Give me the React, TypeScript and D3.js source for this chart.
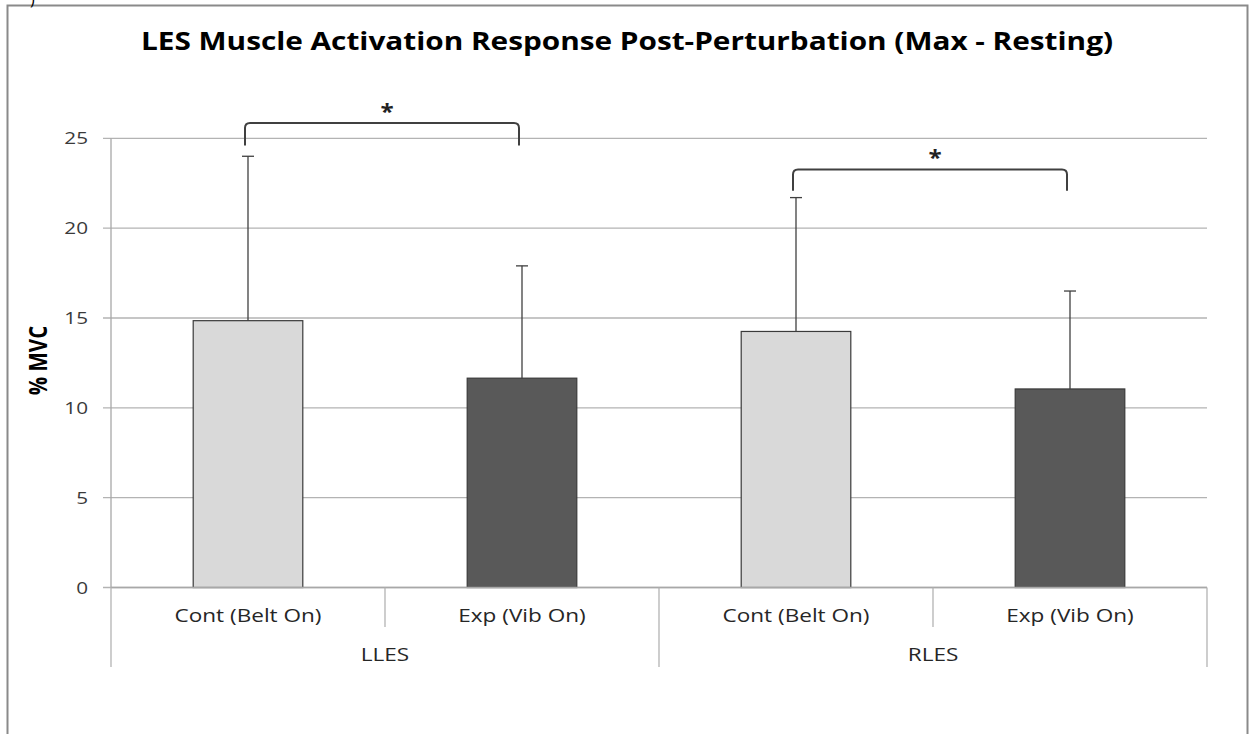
import React from "react";
import * as d3 from "d3";

const groups = ["LLES", "RLES"];
const conditions = ["Cont (Belt On)", "Exp (Vib On)"];
const meanValues = [
  [14.85, 11.65],
  [14.25, 11.05],
];
const errorTops = [
  [24.0, 17.9],
  [21.7, 16.5],
];
const yTicks = [0, 5, 10, 15, 20, 25];
// significance brackets: group index, bracket top value, leg bottom value
const sigGroups = [0, 1];
const sigTop = [25.85, 23.27];
const sigBottom = [24.6, 22.08];
const title = "LES Muscle Activation Response Post-Perturbation (Max - Resting)";
const yLabel = "% MVC";

const W = 1251;
const H = 734;
const plotLeft = 111;
const plotRight = 1207;
const plotTop = 138.3;
const plotBottom = 587.5;
const FONT = "'Open Sans', 'Liberation Sans', sans-serif";
const SX = 1.22;

type STProps = {
  x: number;
  y: number;
  size: number;
  anchor?: string;
  weight?: string;
  fill?: string;
  rotate?: boolean;
  sx?: number;
  dy?: string;
  children: React.ReactNode;
};

function SText({ x, y, size, anchor = "middle", weight = "normal", fill = "#000", rotate = false, sx = SX, dy, children }: STProps) {
  const tr = rotate
    ? `translate(${x},${y}) rotate(-90) scale(1,${sx})`
    : `translate(${x},${y}) scale(${sx},1)`;
  return (
    <text
      transform={tr}
      textAnchor={anchor}
      fontFamily={FONT}
      fontWeight={weight}
      fontSize={size}
      fill={fill}
      dy={dy}
    >
      {children}
    </text>
  );
}

export default function App() {
  const cats: { g: number; c: number; key: string }[] = [];
  groups.forEach((g, gi) =>
    conditions.forEach((c, ci) => cats.push({ g: gi, c: ci, key: `${g}-${c}` }))
  );
  const x = d3
    .scaleBand<string>()
    .domain(cats.map((d) => d.key))
    .range([plotLeft, plotRight])
    .paddingInner(0.6)
    .paddingOuter(0.3);
  const y = d3.scaleLinear().domain([0, 25]).range([plotBottom, plotTop]);
  const fills = ["#d9d9d9", "#595959"];
  const catW = (plotRight - plotLeft) / cats.length;
  const catStart = (i: number) => plotLeft + i * catW;

  return (
    <div style={{ position: "absolute", left: 0, top: 0 }}>
      <svg width={W} height={H} style={{ display: "block", background: "#fff" }}>
        <rect x={0} y={0} width={W} height={H} fill="#fff" />
        {/* frame */}
        <rect x={7.5} y={5.5} width={1240} height={740} fill="none" stroke="#8a8a8a" strokeWidth={2} />
        <text x={30} y={5} fontFamily={FONT} fontSize={16} fill="#000">)</text>
        {/* title */}
        <SText x={627} y={49.5} size={24.8} weight="bold" sx={1.2}>
          {title}
        </SText>
        {/* gridlines */}
        {yTicks.map((t) => (
          <g key={t}>
            <line x1={103} x2={plotRight} y1={y(t)} y2={y(t)} stroke="#b3b3b3" strokeWidth={1.3} />
            <SText x={88} y={y(t)} dy="0.36em" anchor="end" size={17} fill="#3a3a3a">
              {t}
            </SText>
          </g>
        ))}
        {/* y axis */}
        <line x1={plotLeft} x2={plotLeft} y1={plotTop} y2={plotBottom} stroke="#a8a8a8" strokeWidth={1.3} />
        <SText x={47} y={360.5} size={20.5} weight="bold" rotate>
          {yLabel}
        </SText>
        {/* bars */}
        {cats.map((d) => {
          const v = meanValues[d.g][d.c];
          const e = errorTops[d.g][d.c];
          const bx = x(d.key)!;
          const bw = x.bandwidth();
          const cx = bx + bw / 2;
          return (
            <g key={d.key}>
              <rect
                x={bx}
                y={y(v)}
                width={bw}
                height={y(0) - y(v)}
                fill={fills[d.c]}
                stroke="#3a3a3a"
                strokeWidth={1.2}
              />
              <line x1={cx} x2={cx} y1={y(v)} y2={y(e)} stroke="#404040" strokeWidth={1.3} />
              <line x1={cx - 6} x2={cx + 6} y1={y(e)} y2={y(e)} stroke="#404040" strokeWidth={1.3} />
            </g>
          );
        })}
        {/* category axis */}
        <line x1={plotLeft} x2={plotRight} y1={plotBottom} y2={plotBottom} stroke="#a8a8a8" strokeWidth={1.3} />
        {cats.map((d, i) => (
          <g key={"lab" + d.key}>
            <SText x={catStart(i) + catW / 2} y={621.5} size={18.5} fill="#262626">
              {conditions[d.c]}
            </SText>
            {d.c === 1 && (
              <line
                x1={catStart(i)}
                x2={catStart(i)}
                y1={plotBottom}
                y2={627}
                stroke="#b3b3b3"
                strokeWidth={1.3}
              />
            )}
          </g>
        ))}
        {[0, 1, 2].map((k) => (
          <line
            key={"gd" + k}
            x1={catStart(k * 2)}
            x2={catStart(k * 2)}
            y1={plotBottom}
            y2={667}
            stroke="#b3b3b3"
            strokeWidth={1.3}
          />
        ))}
        {groups.map((g, gi) => (
          <SText key={g} x={catStart(gi * 2) + catW} y={661} size={18.5} fill="#262626">
            {g}
          </SText>
        ))}
        {/* significance brackets */}
        {sigGroups.map((gi, k) => {
          const x1 = x(`${groups[gi]}-${conditions[0]}`)! + x.bandwidth() / 2 - 3;
          const x2 = x(`${groups[gi]}-${conditions[1]}`)! + x.bandwidth() / 2 - 3;
          const yt = y(sigTop[k]);
          const yb = y(sigBottom[k]);
          const r = 5;
          const p = `M${x1},${yb} L${x1},${yt + r} Q${x1},${yt} ${x1 + r},${yt} L${x2 - r},${yt} Q${x2},${yt} ${x2},${yt + r} L${x2},${yb}`;
          return (
            <g key={"sig" + k}>
              <path d={p} fill="none" stroke="#404040" strokeWidth={2} />
              <SText x={(x1 + x2) / 2 + 5} y={yt - 4} size={22} weight="bold" fill="#222" sx={1.1}>
                *
              </SText>
            </g>
          );
        })}
      </svg>
    </div>
  );
}
